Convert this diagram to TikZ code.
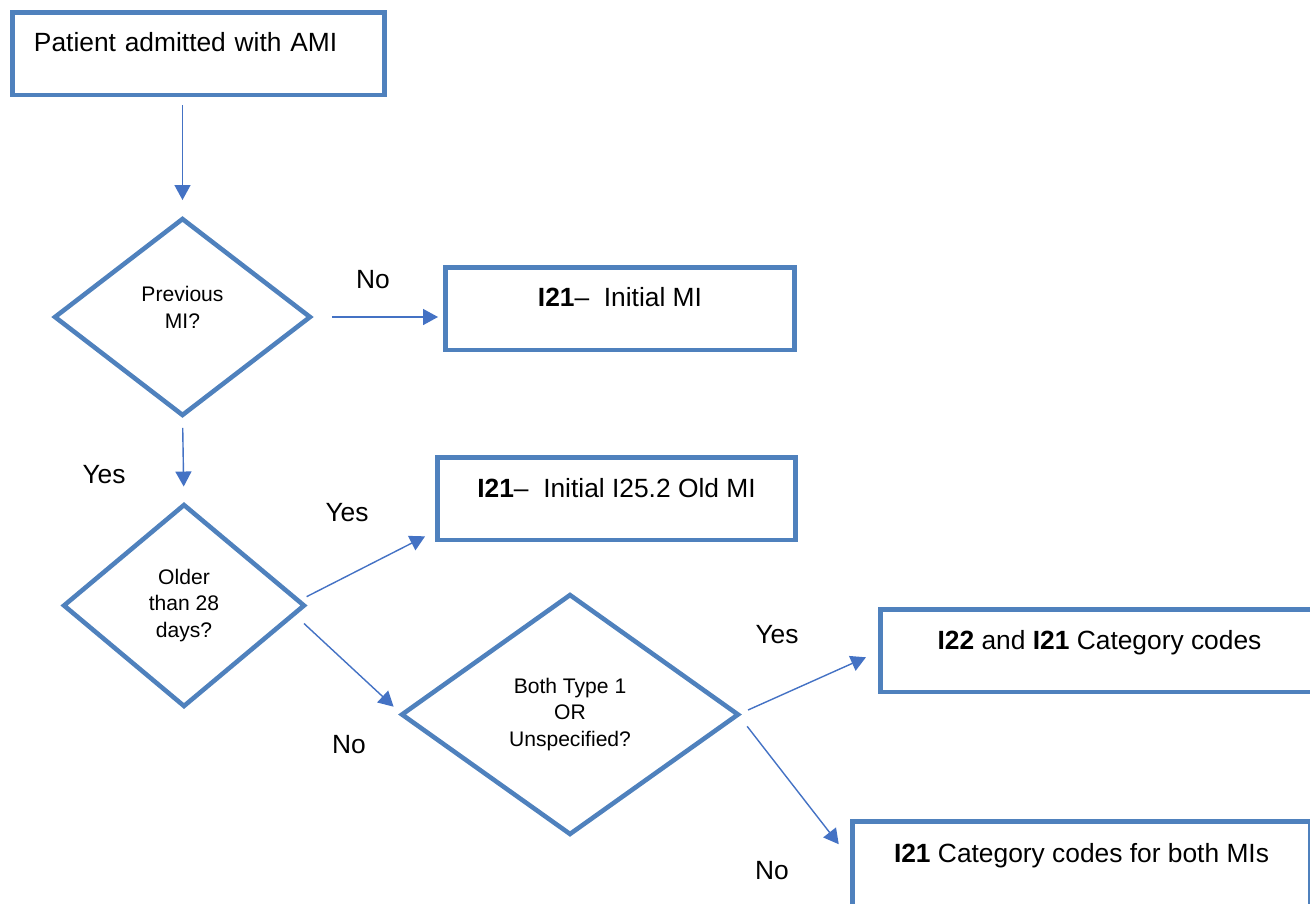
\documentclass[tikz,border=0pt]{standalone}
\usepackage{fontspec}
\setmainfont{Liberation Sans}
\usetikzlibrary{shapes.geometric,arrows.meta}

\definecolor{boxblue}{RGB}{79,129,189}
\definecolor{arrowblue}{RGB}{68,114,196}

\tikzset{
  codebox/.style={rectangle, draw=boxblue, line width=2.6pt, outer sep=0pt,
    inner ysep=0pt, text height=0.79cm, text depth=0.86cm,
    font=\fontsize{15}{18}\selectfont},
  question/.style={diamond, draw=boxblue, line width=2.6pt, outer sep=0pt,
    inner sep=0pt, align=center, font=\fontsize{12}{15}\selectfont},
  flow/.style={draw=arrowblue, line width=0.8pt, -{Triangle[length=3mm,width=3.2mm]}},
  answer/.style={anchor=base, font=\fontsize{15}{18}\selectfont}
}

\begin{document}
\begin{tikzpicture}[x=0.02cm,y=-0.02cm]
  \clip (0,0) rectangle (1310,903);
  % code boxes
  \node[codebox, anchor=north west, text width=6.58cm, inner xsep=0.43cm, align=left] (admit) at (12.5,12.5) {Patient admitted with AMI};
  \node[codebox, anchor=north, minimum width=6.98cm] (initmi) at (620,267.5) {\textbf{I21}–\ \ Initial MI};
  \node[codebox, anchor=north, minimum width=7.16cm] (oldmi) at (616.5,457.5) {\textbf{I21}–\ \ Initial I25.2 Old MI};
  \node[codebox, anchor=north, minimum width=8.76cm] (codes) at (1099.5,609.5) {\textbf{I22} and \textbf{I21} Category codes};
  \node[codebox, anchor=north, minimum width=9.16cm, text height=0.81cm, text depth=2cm] (bothmi) at (1081.5,821.5) {\textbf{I21} Category codes for both MIs};
  % decisions
  \node[question, minimum width=5.1cm, minimum height=3.92cm, text depth=0.38cm] (prev) at (182.5,317) {Previous\\MI?};
  \node[question, minimum width=4.8cm, minimum height=4.02cm] (older) at (184,605.5) {Older\\than 28\\days?};
  \node[question, minimum width=6.72cm, minimum height=4.78cm] (both) at (570,714.5) {Both Type 1\\OR\\Unspecified?};
  % answers
  \node[answer] (no1) at (373,288) {No};
  \node[answer] (yes1) at (104,483) {Yes};
  \node[answer] (yes2) at (347,521) {Yes};
  \node[answer] (no2) at (349,753) {No};
  \node[answer] (yes3) at (777,643) {Yes};
  \node[answer] (no3) at (772,879) {No};
  % connectors
  \draw[flow, shorten <=0.21cm, shorten >=0.38cm] (admit.south -| prev.north) -- (prev.north);
  \draw[flow, shorten <=0.44cm, shorten >=0.15cm] (prev.east) -- (prev.east -| initmi.west);
  \draw[flow, shorten <=0.26cm, shorten >=0.37cm] (prev.south) -- (older.north);
  \draw[flow, shorten <=0.06cm, shorten >=0.28cm] ([yshift=0.15cm]older.east) -- ([yshift=0.2cm]oldmi.south west);
  \draw[flow, shorten >=0.23cm] ([yshift=-0.36cm]older.east) -- (both.west);
  \draw[flow, shorten <=0.22cm, shorten >=0.32cm] (both.east) -- (codes.west);
  \draw[flow, shorten <=0.3cm, shorten >=0.45cm] (both.east) -- (bothmi.base west);
\end{tikzpicture}
\end{document}
